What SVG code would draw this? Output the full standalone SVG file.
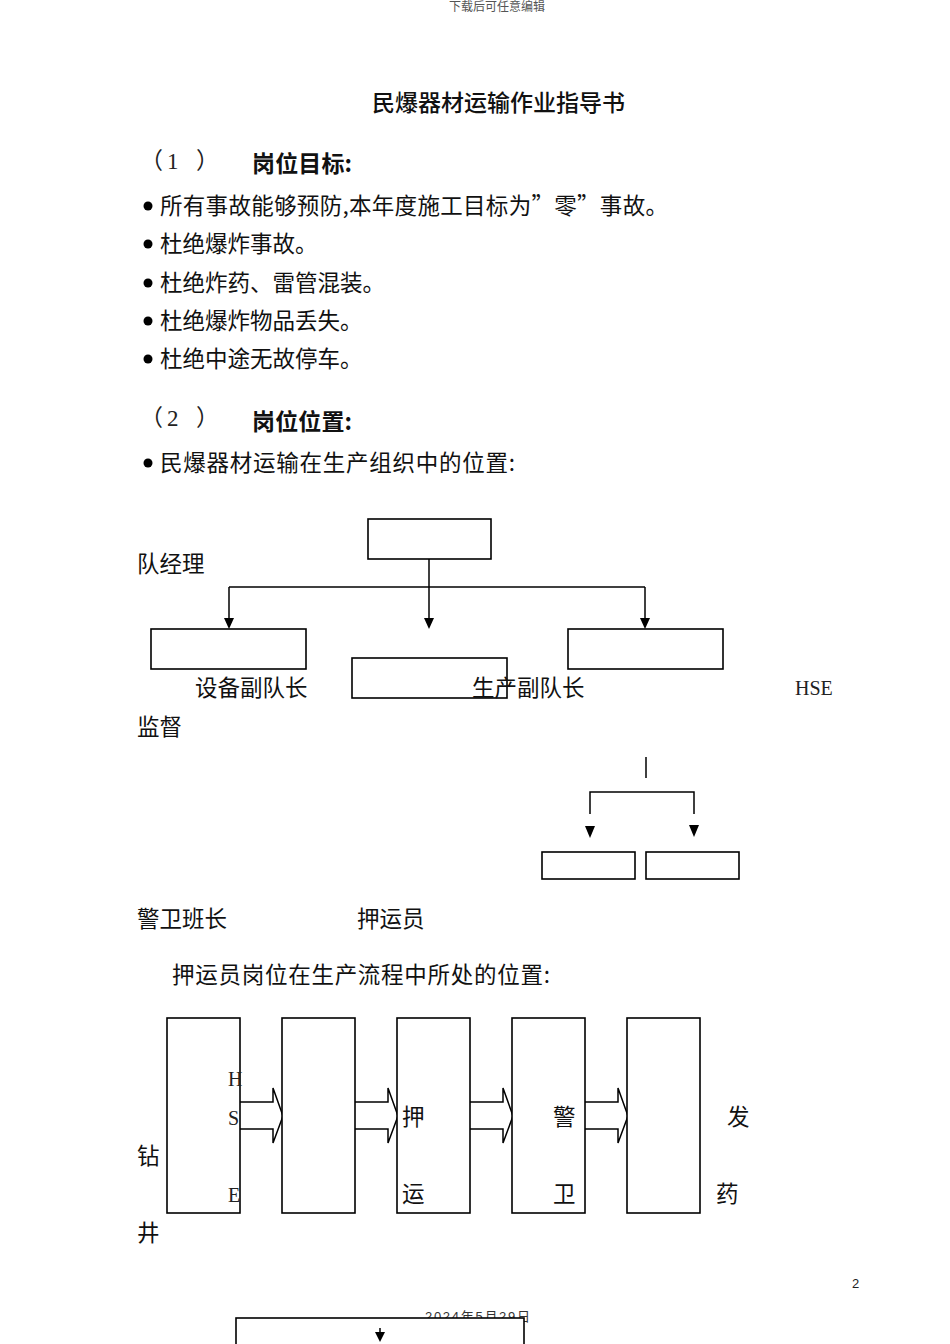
<svg xmlns="http://www.w3.org/2000/svg" width="950" height="1344" viewBox="0 0 950 1344">
<defs>
<style>
.t{font-family:"Noto Sans CJK SC","Noto Sans",sans-serif;font-size:22.5px;fill:#111}
.h{font-family:"Noto Sans CJK SC",sans-serif;font-size:23px;font-weight:bold;fill:#111}
.s{font-family:"Liberation Serif","Noto Sans CJK SC",serif;fill:#222}
.box{fill:#fff;stroke:#000;stroke-width:1.6}
.ln{fill:none;stroke:#000;stroke-width:1.5}
.ah{fill:#000}
.blk{fill:#fff;stroke:#000;stroke-width:1.5}
</style>
</defs>
<rect width="950" height="1344" fill="#fff"/>
<text x="497" y="11" text-anchor="middle" font-family="Liberation Serif,Noto Sans CJK SC,serif" font-size="12" fill="#555">下载后可任意编辑</text>
<text x="372" y="111" style="font-family:'Noto Sans CJK SC',sans-serif;font-weight:500;font-size:23px;fill:#111" textLength="253">民爆器材运输作业指导书</text>

<g class="s" font-size="23"><text x="140" y="169">（</text><text x="167" y="169">1</text><text x="196" y="169">）</text></g>
<text x="252" y="172" class="h" textLength="100">岗位目标:</text>
<g class="t">
<circle cx="148" cy="206" r="4.5" fill="#000"/>
<text x="160" y="214" textLength="508">所有事故能够预防,本年度施工目标为”零”事故。</text>
<circle cx="148" cy="244" r="4.5" fill="#000"/>
<text x="160" y="252">杜绝爆炸事故。</text>
<circle cx="148" cy="283" r="4.5" fill="#000"/>
<text x="160" y="291">杜绝炸药、雷管混装。</text>
<circle cx="148" cy="321" r="4.5" fill="#000"/>
<text x="160" y="329">杜绝爆炸物品丢失。</text>
<circle cx="148" cy="359" r="4.5" fill="#000"/>
<text x="160" y="367">杜绝中途无故停车。</text>
</g>
<g class="s" font-size="23"><text x="140" y="426">（</text><text x="167" y="426">2</text><text x="196" y="426">）</text></g>
<text x="252" y="430" class="h" textLength="100">岗位位置:</text>
<circle cx="148" cy="463" r="4.5" fill="#000"/>
<text x="160" y="471" class="t" textLength="355">民爆器材运输在生产组织中的位置:</text>

<g id="connectors">
<path class="ln" d="M429,559 V618"/>
<path class="ln" d="M229,587 H645"/>
<path class="ln" d="M229,587 V618"/>
<path class="ln" d="M645,587 V618"/>
<path class="ah" d="M224,618 H234 L229,629 Z"/>
<path class="ah" d="M424,618 H434 L429,629 Z"/>
<path class="ah" d="M640,618 H650 L645,629 Z"/>
<path class="ln" d="M646,757 V778"/>
<path class="ln" d="M590,814 V792 H694 V814"/>
<path class="ah" d="M585,826 H595 L590,838 Z"/>
<path class="ah" d="M689,825 H699 L694,837 Z"/>
<path class="blk" d="M240,1102 H273 V1088 L283,1116 L273,1143 V1129 H240"/>
<path class="blk" d="M355,1102 H388 V1088 L398,1116 L388,1143 V1129 H355"/>
<path class="blk" d="M470,1102 H503 V1088 L513,1116 L503,1143 V1129 H470"/>
<path class="blk" d="M585,1102 H618 V1088 L628,1116 L618,1143 V1129 H585"/>
</g>

<g id="n-top"><rect class="box" x="368" y="519" width="123" height="40"/></g>
<g id="n-left"><rect class="box" x="151" y="629" width="155" height="40"/></g>
<g id="n-mid"><rect class="box" x="352" y="658" width="155" height="40"/></g>
<g id="n-right"><rect class="box" x="568" y="629" width="155" height="40"/></g>
<text x="137" y="572" class="t">队经理</text>
<text x="195" y="696" class="t">设备副队长</text>
<text x="472" y="696" class="t">生产副队长</text>
<text x="795" y="695" class="s" font-size="20">HSE</text>
<text x="137" y="735" class="t">监督</text>

<g id="n-b1"><rect class="box" x="542" y="852" width="93" height="27"/></g>
<g id="n-b2"><rect class="box" x="646" y="852" width="93" height="27"/></g>
<text x="137" y="927" class="t">警卫班长</text>
<text x="357" y="927" class="t">押运员</text>
<text x="172" y="983" class="t" textLength="378">押运员岗位在生产流程中所处的位置:</text>

<g id="f1"><rect class="box" x="167" y="1018" width="73" height="195"/></g>
<g id="f2"><rect class="box" x="282" y="1018" width="73" height="195"/></g>
<g id="f3"><rect class="box" x="397" y="1018" width="73" height="195"/></g>
<g id="f4"><rect class="box" x="512" y="1018" width="73" height="195"/></g>
<g id="f5"><rect class="box" x="627" y="1018" width="73" height="195"/></g>
<text x="228" y="1086" class="s" font-size="20">H</text>
<text x="228" y="1125" class="s" font-size="20">S</text>
<text x="228" y="1202" class="s" font-size="20">E</text>
<text x="402" y="1125" class="t">押</text>
<text x="402" y="1202" class="t">运</text>
<text x="553" y="1125" class="t">警</text>
<text x="553" y="1202" class="t">卫</text>
<text x="727" y="1125" class="t">发</text>
<text x="716" y="1202" class="t">药</text>
<text x="137" y="1164" class="t">钻</text>
<text x="137" y="1241" class="t">井</text>

<text x="852" y="1288" font-family="Liberation Sans,sans-serif" font-size="13" fill="#222">2</text>
<text x="425" y="1321" textLength="105" font-family="Liberation Sans,Noto Sans CJK SC,sans-serif" font-size="13" fill="#333">2024年5月29日</text>
<g id="n-bottom"><rect class="box" x="236" y="1318" width="288" height="40"/></g>
<g id="bottom-arrow"><path class="ln" d="M380,1328 V1334"/><path class="ah" d="M375,1332 H385 L380,1342 Z"/></g>
</svg>
